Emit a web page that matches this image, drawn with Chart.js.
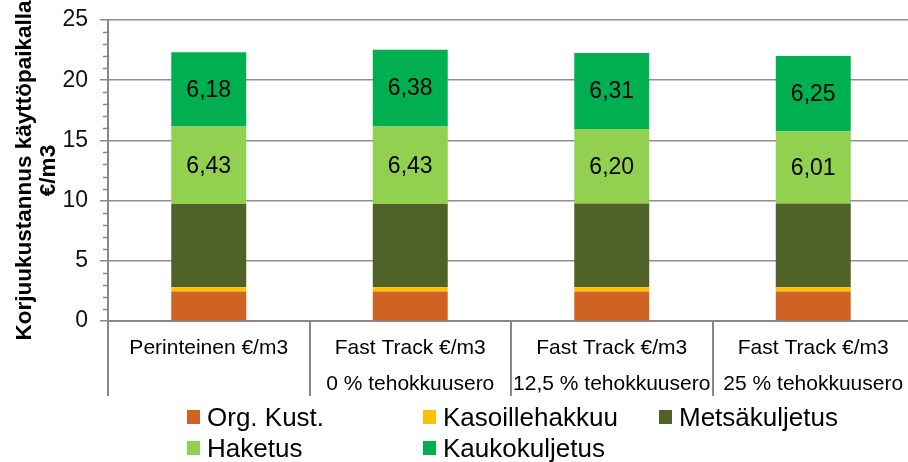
<!DOCTYPE html>
<html>
<head>
<meta charset="utf-8">
<script src="https://cdn.jsdelivr.net/npm/chart.js@4.4.0/dist/chart.umd.min.js"></script>
<style>
  html, body { margin: 0; padding: 0; background: #fff; overflow: hidden; }
  #wrap { position: relative; width: 908px; height: 462px; overflow: hidden; }
  #wrap canvas { position: absolute; left: 0; top: 0; }
  #legend { position: absolute; left: 0; top: 0; width: 908px; height: 462px; pointer-events: none;
            font-family: "Liberation Sans", Arial, sans-serif; font-size: 26px; color: #000; }
  .item { position: absolute; display: flex; align-items: center; height: 30px; white-space: nowrap; }
  .item i { display: inline-block; width: 13px; height: 14px; margin-right: 7px; }
</style>
</head>
<body>
<div id="wrap">
  <canvas id="myChart" width="914" height="462" style="width:914px;height:462px"></canvas>
  <div id="legend"></div>
</div>
<script>
// kategoriat (kaksirivinen nimi)
const categories = [
  ['Perinteinen €/m3', ''],
  ['Fast Track €/m3', '0 % tehokkuusero'],
  ['Fast Track €/m3', '12,5 % tehokkuusero'],
  ['Fast Track €/m3', '25 % tehokkuusero']
];

// kustannukset €/m3
const orgKust        = [2.45, 2.45, 2.45, 2.45];
const kasoillehakkuu = [0.35, 0.35, 0.35, 0.35];
const metsakuljetus  = [6.92, 6.92, 6.95, 6.95];
const haketus        = [6.43, 6.43, 6.20, 6.01];
const kaukokuljetus  = [6.18, 6.38, 6.31, 6.25];

const yTicks = [0, 5, 10, 15, 20, 25];

const FONT = '"Liberation Sans", Arial, sans-serif';
const axisGrey = '#878787';

// pienet välimerkit y-akselille
const minorTicks = {
  id: 'minorTicks',
  afterDraw(chart) {
    const y = chart.scales.y, ctx = chart.ctx;
    ctx.save();
    ctx.strokeStyle = axisGrey;
    ctx.lineWidth = 1.5;
    for (let v = y.min; v <= y.max; v++) {
      if (v % 5 === 0) continue;
      const py = Math.round(y.getPixelForValue(v)) + 0.5;
      ctx.beginPath();
      ctx.moveTo(y.right - 5, py);
      ctx.lineTo(y.right, py);
      ctx.stroke();
    }
    ctx.restore();
  }
};

// arvot palkkien sisään (vain merkityt sarjat)
const valueLabels = {
  id: 'valueLabels',
  afterDatasetsDraw(chart) {
    const ctx = chart.ctx;
    ctx.save();
    ctx.font = '23px ' + FONT;
    ctx.fillStyle = '#000';
    ctx.textAlign = 'center';
    ctx.textBaseline = 'middle';
    chart.data.datasets.forEach((ds, i) => {
      if (!ds.showValue) return;
      chart.getDatasetMeta(i).data.forEach((bar, j) => {
        const txt = ds.data[j].toFixed(2).replace('.', ',');
        ctx.fillText(txt, bar.x, (bar.y + bar.base) / 2 + 1);
      });
    });
    ctx.restore();
  }
};

const ctx = document.getElementById('myChart');
var config = {
  type: 'bar',
  data: {
    labels: categories,
    datasets: [
      { label: 'Org. Kust.',     data: orgKust,        backgroundColor: '#D06224' },
      { label: 'Kasoillehakkuu', data: kasoillehakkuu, backgroundColor: '#FFC000' },
      { label: 'Metsäkuljetus',  data: metsakuljetus,  backgroundColor: '#4F6228' },
      { label: 'Haketus',        data: haketus,        backgroundColor: '#92D050', showValue: true },
      { label: 'Kaukokuljetus',  data: kaukokuljetus,  backgroundColor: '#00B050', showValue: true }
    ].map(d => Object.assign(d, { barPercentage: 0.372, categoryPercentage: 1, borderWidth: 0 }))
  },
  options: {
    responsive: false,
    animation: false,
    layout: { padding: { left: 0, right: 0, top: 20, bottom: 60 } },
    plugins: { legend: { display: false }, tooltip: { enabled: false } },
    scales: {
      x: {
        stacked: true,
        grid: { offset: true, drawOnChartArea: false, tickLength: 75, color: axisGrey, lineWidth: 2 },
        border: { color: axisGrey, width: 2 },
        ticks: { padding: -66, maxRotation: 0, autoSkip: false, color: '#000',
                 font: { family: FONT, size: 21, lineHeight: 1.714 } },
        afterFit(scale) { scale.height = 81; }
      },
      y: {
        stacked: true,
        min: 0,
        max: 25,
        afterBuildTicks(scale) { scale.ticks = yTicks.map(v => ({ value: v })); },
        grid: { color: '#8f8f8f', lineWidth: 1.5, tickLength: 8, tickColor: axisGrey },
        border: { color: axisGrey, width: 2 },
        ticks: { padding: 12, color: '#111', font: { family: FONT, size: 23 } },
        title: {
          display: true,
          text: ['Korjuukustannus käyttöpaikalla', '€/m3'],
          color: '#000',
          padding: { top: 13, bottom: 0 },
          font: { family: FONT, size: 22.5, weight: 'bold', lineHeight: 1.05 }
        },
        afterFit(scale) {
          scale.width = 108;
          scale.paddingTop = 0;
          scale.paddingBottom = 0;
        }
      }
    }
  },
  plugins: [minorTicks, valueLabels]
};

var myChart = new Chart(ctx, config);

// selite kolmeen sarakkeeseen
const legendEl = document.getElementById('legend');
const colX = [187, 423, 659];
const rowY = [402, 433];
myChart.data.datasets.forEach((ds, i) => {
  const el = document.createElement('div');
  el.className = 'item';
  el.style.left = colX[i % 3] + 'px';
  el.style.top = rowY[Math.floor(i / 3)] + 'px';
  el.innerHTML = '<i style="background:' + ds.backgroundColor + '"></i>' + ds.label;
  legendEl.appendChild(el);
});
</script>
</body>
</html>
